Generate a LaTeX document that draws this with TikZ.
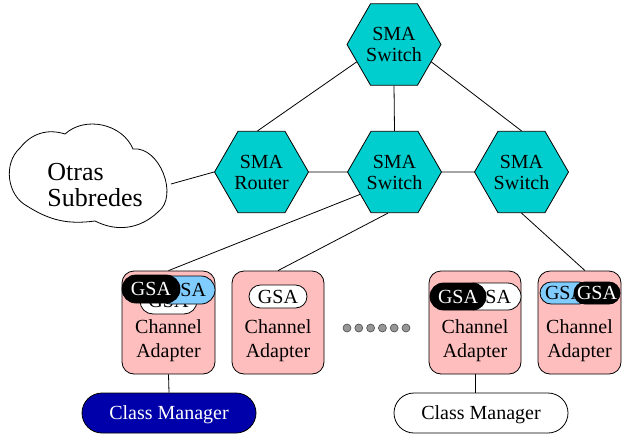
\documentclass[tikz,border=0pt]{standalone}
\usepackage{fontspec}
\setmainfont{Liberation Serif}
\usetikzlibrary{shapes.geometric,shapes.misc}
\definecolor{hexfill}{RGB}{0,206,206}
\definecolor{cafill}{RGB}{255,190,190}
\definecolor{gsablue}{RGB}{128,204,255}
\definecolor{cmblue}{RGB}{0,0,170}
\definecolor{dotgray}{RGB}{150,150,150}
\begin{document}
\begin{tikzpicture}[x=1pt,y=-1pt,line width=0.8pt,
  hexnode/.style={regular polygon,regular polygon sides=6,minimum size=94pt,
    inner sep=0pt,draw,fill=hexfill,align=center,font=\fontsize{20}{21}\selectfont},
  cabox/.style={draw,fill=cafill,rounded corners=12pt,minimum height=103pt,inner sep=0pt},
  catext/.style={align=center,font=\fontsize{20}{24}\selectfont,inner sep=0pt},
  gsa/.style={rounded rectangle,draw,inner sep=0pt,font=\fontsize{20}{20}\selectfont},
  gsaw/.style={gsa,fill=white},
  gsab/.style={gsa,fill=gsablue},
  gsak/.style={gsa,fill=black,text=white},
  mgrnode/.style={rounded rectangle,draw,minimum width=174pt,minimum height=40pt,
    inner sep=0pt,text depth=0pt,font=\fontsize{20}{20}\selectfont},
  dotnode/.style={circle,draw=black!70,fill=dotgray,minimum size=8pt,inner sep=0pt,line width=0.6pt}]

\useasboundingbox (0,0) rectangle (623,434);

% cloud of other subnets
\draw[fill=white] (20,148) to[bend left=35] (65,134) to[bend left=55] (133,149)
  to[bend left=75] (158,212) to[bend left=35] (95,221) to[bend left=20] (27,206)
  to[bend left=55] (20,148) -- cycle;
\node[align=left,anchor=west,inner sep=0pt,font=\fontsize{26}{26}\selectfont]
  (cloudtxt) at (47,185) {Otras\\Subredes};
\coordinate (cl-e) at (171,184);

% SMA switches and router
\node[hexnode] (sw1) at (394,44.5) {SMA\\Switch};
\node[hexnode] (rt)  at (261.5,172) {SMA\\Router};
\node[hexnode] (sw2) at (394.5,172) {SMA\\Switch};
\node[hexnode] (sw3) at (521.5,172) {SMA\\Switch};

% channel adapters
\node[cabox,minimum width=93pt] (ca1) at (168.5,322.5) {};
\node[cabox,minimum width=92pt] (ca2) at (278,322.5) {};
\node[cabox,minimum width=92pt] (ca3) at (475,322.5) {};
\node[cabox,minimum width=83pt] (ca4) at (579.5,322.5) {};

\foreach \b/\x in {1/168.5,2/278,3/475,4/579.5}
  \node[catext] (ct\b) at (\x,341) {Channel\\Adapter};

% GSA agents
\node[gsaw,minimum width=57pt,minimum height=26pt] (g1a) at (168.5,301) {GSA};
\node[gsab,minimum width=58pt,minimum height=28pt] (g1b) at (186,290) {GSA};
\node[gsak,minimum width=58pt,minimum height=28pt] (g1c) at (151,289) {GSA};

\node[gsaw,minimum width=58pt,minimum height=23pt] (g2a) at (278,296.5) {GSA};

\node[gsaw,minimum width=60pt,minimum height=27pt] (g3a) at (491,296.5) {GSA};
\node[gsak,minimum width=56pt,minimum height=27pt] (g3b) at (458,296.5) {GSA};

\node[gsab,minimum width=50pt,minimum height=22pt] (g4a) at (565,293) {GSA};
\node[gsak,minimum width=46pt,minimum height=22pt] (g4b) at (597,293) {GSA};

% ellipsis dots
\foreach \i in {0,...,5}
  \node[dotnode] (dot\i) at ({347+11.8*\i},328) {};

% class managers
\node[mgrnode,fill=cmblue,text=white] (cm1) at (169,413) {Class Manager};
\node[mgrnode,fill=white] (cm2) at (481,413) {Class Manager};

% links
\draw (sw1.205) -- ([xshift=-4pt]rt.north);
\draw (sw1.south) -- (sw2.north);
\draw (sw1.335) -- (sw3.north);
\draw (rt) -- (sw2);
\draw (sw2) -- (sw3);
\draw (cl-e) -- (rt.west);
\draw (sw2.213) -- (ca1.north);
\draw (sw2.261) -- (ca2.north);
\draw (sw3.south) -- ([xshift=5.5pt]ca4.north);
\draw (ca1.south) -- (cm1.north);
\draw (ca3.south) -- (ca3.south |- cm2.north);
\end{tikzpicture}
\end{document}
